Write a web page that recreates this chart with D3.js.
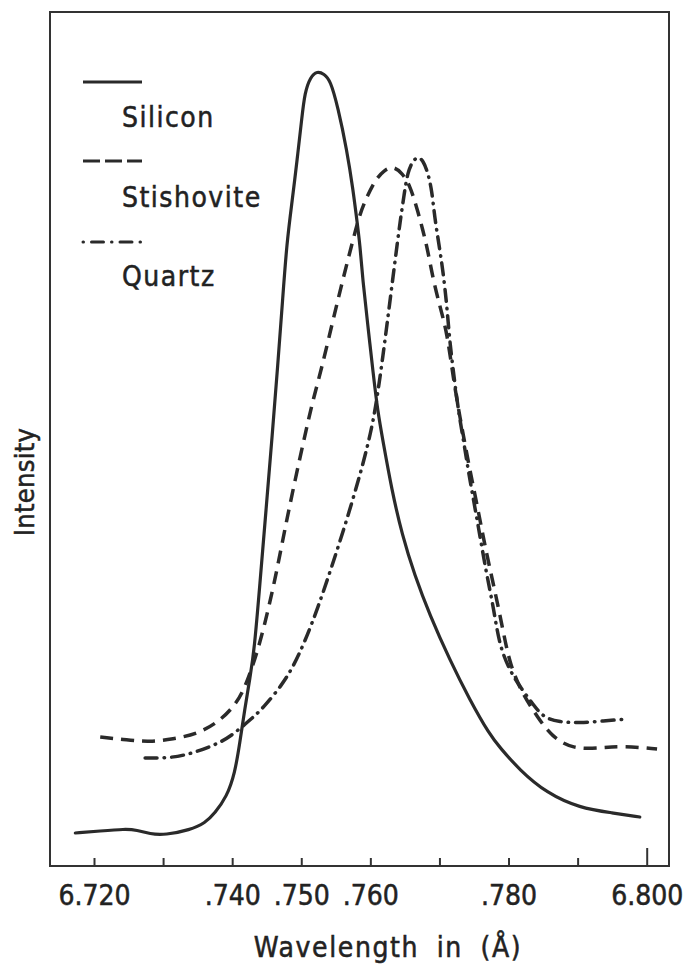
<!DOCTYPE html>
<html><head><meta charset="utf-8">
<script src="https://cdn.jsdelivr.net/npm/d3@7/dist/d3.min.js"></script>
<style>
body{margin:0;background:#fff}
text{font-family:'DejaVu Sans Condensed','DejaVu Sans',sans-serif;fill:#222;stroke:#222;stroke-width:0.5px}
</style>
</head><body>
<svg id="c" width="687" height="969"></svg>
<script>
// ---- data ----
const tickValues = [6.72, 6.73, 6.74, 6.75, 6.76, 6.77, 6.78, 6.79, 6.80];
const tickLabels = ["6.720", "", ".740", ".750", ".760", "", ".780", "", "6.800"];
const seriesNames = ["Silicon", "Stishovite", "Quartz"];

const siliconWavelength = [6.7173,6.7209,6.7245,6.7262,6.7281,6.7303,6.7339,6.7361,6.7375,6.7392,6.7404,6.7411,6.7418,6.7426,6.7432,6.7440,6.7449,6.7458,6.7466,6.7473,6.7479,6.7487,6.7494,6.7501,6.7505,6.7513,6.7523,6.7533,6.7542,6.7553,6.7566,6.7575,6.7581,6.7585,6.7589,6.7596,6.7604,6.7611,6.7618,6.7631,6.7646,6.7664,6.7686,6.7715,6.7744,6.7773,6.7787,6.7816,6.7855,6.7903,6.7951,6.7990];
const siliconIntensity  = [3.88,4.12,4.35,4.24,3.76,3.65,4.24,5.06,6.24,8.12,10.94,14.47,18.35,22.24,25.41,33.06,41.88,50.71,58.94,66.59,73.29,78.35,83.06,88.12,90.94,92.82,93.53,93.18,92.47,89.29,84.24,79.53,75.65,73.06,68.94,63.88,58.00,53.29,50.12,44.24,38.94,34.24,29.53,24.24,19.53,15.41,14.00,11.29,8.59,6.82,6.24,5.76];

const stishoviteWavelength = [6.7209,6.7248,6.7281,6.7314,6.7349,6.7378,6.7401,6.7416,6.7433,6.7447,6.7462,6.7476,6.7491,6.7508,6.7517,6.7530,6.7546,6.7559,6.7573,6.7585,6.7595,6.7607,6.7620,6.7633,6.7646,6.7657,6.7667,6.7676,6.7683,6.7691,6.7701,6.7711,6.7719,6.7727,6.7734,6.7744,6.7756,6.7767,6.7780,6.7792,6.7802,6.7821,6.7842,6.7863,6.7893,6.7932,6.7966,6.8015];
const stishoviteIntensity  = [15.18,14.82,14.59,14.94,15.53,16.82,18.59,20.47,24.24,28.35,33.65,39.53,45.41,51.65,54.82,58.71,64.24,68.59,73.06,76.82,78.71,80.71,81.88,82.35,81.53,80.12,77.53,74.82,72.47,68.94,65.76,62.71,58.00,54.00,50.94,46.59,41.88,37.18,32.47,27.76,23.65,20.12,17.53,15.18,13.76,13.88,14.12,13.76];

const quartzWavelength = [6.7274,6.7314,6.7343,6.7375,6.7397,6.7426,6.7445,6.7472,6.7488,6.7505,6.7524,6.7544,6.7565,6.7585,6.7596,6.7605,6.7612,6.7618,6.7624,6.7631,6.7637,6.7643,6.7649,6.7654,6.7662,6.7669,6.7676,6.7683,6.7689,6.7693,6.7699,6.7705,6.7711,6.7715,6.7723,6.7728,6.7734,6.7744,6.7756,6.7767,6.7779,6.7787,6.7806,6.7831,6.7850,6.7874,6.7903,6.7937,6.7971];
const quartzIntensity  = [12.71,12.71,13.29,14.24,15.18,17.18,18.59,21.29,23.41,26.35,30.35,35.18,40.47,46.00,49.41,52.71,56.35,59.88,63.65,68.12,72.00,75.76,79.06,81.65,83.06,83.41,83.06,81.65,79.53,76.35,73.29,70.12,65.76,61.53,56.35,53.29,50.47,45.41,40.12,34.82,30.12,25.76,22.24,19.53,17.41,16.94,16.82,17.06,17.29];

// ---- drawing ----
const ink = "#2a2a2a";
const svg = d3.select("#c");
const x = d3.scaleLinear().domain([6.72, 6.80]).range([94, 646.7]);
const y = d3.scaleLinear().domain([0, 100]).range([866, 16]);

const frame = {left: 50, right: 669, top: 12, bottom: 866};
svg.append("rect")
  .attr("x", frame.left).attr("y", frame.top)
  .attr("width", frame.right - frame.left).attr("height", frame.bottom - frame.top)
  .attr("fill", "none").attr("stroke", "#333").attr("stroke-width", 2);

const axis = d3.axisBottom(x)
  .tickValues(tickValues)
  .tickFormat((d, i) => tickLabels[i])
  .tickSizeInner(-8).tickSizeOuter(0).tickPadding(19);
const gx = svg.append("g").attr("transform", `translate(0,${frame.bottom})`).call(axis);
gx.select(".domain").remove();
gx.selectAll(".tick line").attr("stroke", "#333").attr("stroke-width", 2)
  .attr("y2", (d, i) => i === tickValues.length - 1 ? -18 : -8);
gx.selectAll(".tick text").attr("font-size", 28).attr("fill", "#222")
  .style("font-family", "'DejaVu Sans Condensed','DejaVu Sans',sans-serif");

const styles = [
  {dash: null, width: 3.2, cap: "round"},
  {dash: "13,8", width: 3.5, cap: "butt"},
  {dash: "12,7,0.5,7", width: 3.5, cap: "round"}
];
const data = [
  d3.zip(siliconWavelength, siliconIntensity),
  d3.zip(stishoviteWavelength, stishoviteIntensity),
  d3.zip(quartzWavelength, quartzIntensity)
];
const line = d3.line().x(d => x(d[0])).y(d => y(d[1])).curve(d3.curveBasis);

svg.append("g").selectAll("path.s").data(data).join("path")
  .attr("class", "s")
  .attr("d", line)
  .attr("fill", "none")
  .attr("stroke", ink)
  .attr("stroke-width", (d, i) => styles[i].width)
  .attr("stroke-dasharray", (d, i) => styles[i].dash)
  .attr("stroke-linecap", (d, i) => styles[i].cap)
  .attr("stroke-linejoin", "round");

// legend
const legendLineY = [82, 161, 242];
const legendTextY = [127, 207, 286];
const legendDash = [null, "17,5", "0.5,8,12,8"];
const lg = svg.append("g");
seriesNames.forEach((name, i) => {
  lg.append("line").attr("x1", 83).attr("x2", 142)
    .attr("y1", legendLineY[i]).attr("y2", legendLineY[i])
    .attr("stroke", ink).attr("stroke-width", 3)
    .attr("stroke-dasharray", legendDash[i])
    .attr("stroke-linecap", i === 2 ? "round" : "butt");
  lg.append("text").attr("x", 122).attr("y", legendTextY[i])
    .attr("font-size", 28).attr("letter-spacing", 1.5).text(name);
});

// axis titles
svg.append("text").attr("transform", "translate(34,482) rotate(-90)")
  .attr("text-anchor", "middle").attr("font-size", 27).attr("letter-spacing", 0.3)
  .text("Intensity");
svg.append("text").attr("x", 388).attr("y", 957)
  .attr("text-anchor", "middle").attr("font-size", 28).attr("letter-spacing", 1.6)
  .attr("word-spacing", 8)
  .text("Wavelength in (Å)");
</script>
</body></html>
